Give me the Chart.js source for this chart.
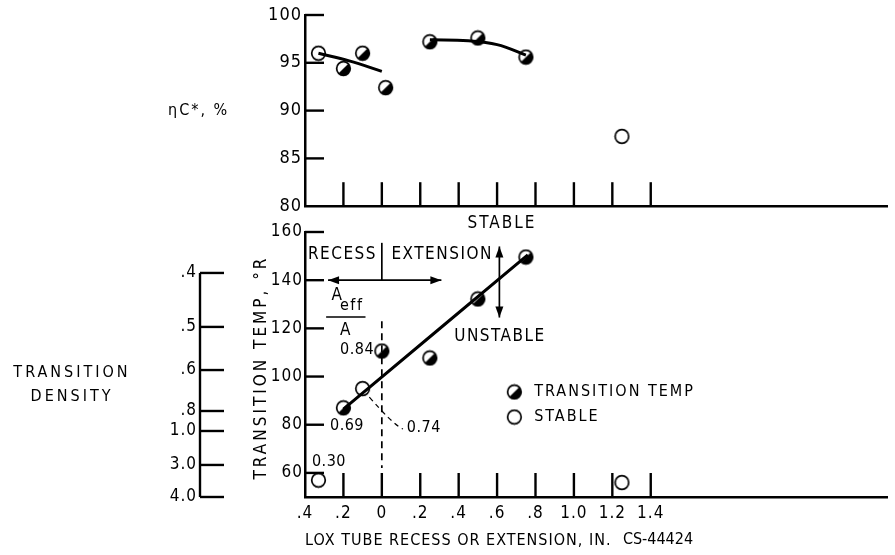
<!DOCTYPE html>
<html>
<head>
<meta charset="utf-8">
<script src="https://cdn.jsdelivr.net/npm/chart.js@4.4.1/dist/chart.umd.min.js"></script>
<style>
  html, body { margin: 0; padding: 0; background: #fff; }
  .wrap { position: relative; width: 895px; height: 555px; overflow: hidden; }
  .wrap canvas { position: absolute; left: 0; top: 0; }
</style>
</head>
<body>
<div class="wrap">
  <canvas id="chartTemp" width="895" height="555"></canvas>
  <canvas id="chartEta" width="895" height="220"></canvas>
</div>
<script>
const X_TICKS = [-0.4, -0.2, 0, 0.2, 0.4, 0.6, 0.8, 1.0, 1.2, 1.4];
const X_TICK_LABELS = ['.4', '.2', '0', '.2', '.4', '.6', '.8', '1.0', '1.2', '1.4'];

// top panel - c* efficiency, %
const ETA_TICKS = [80, 85, 90, 95, 100];
const ETA_TRANS_X = [-0.2, -0.1, 0.02, 0.25, 0.5, 0.75];
const ETA_TRANS_Y = [94.4, 96.0, 92.4, 97.2, 97.6, 95.6];
const ETA_STABLE_X = [-0.33, 1.25];
const ETA_STABLE_Y = [96.0, 87.3];
const ETA_FIT_RECESS_X = [-0.33, -0.17, 0];
const ETA_FIT_RECESS_Y = [96.0, 95.2, 94.1];
const ETA_FIT_EXT_X = [0.25, 0.45, 0.6, 0.75];
const ETA_FIT_EXT_Y = [97.4, 97.3, 96.9, 95.8];

// bottom panel - transition temperature, deg R
const TEMP_TICKS = [60, 80, 100, 120, 140, 160];
const TEMP_TRANS_X = [-0.2, -0.1, 0, 0.25, 0.5, 0.75];
const TEMP_TRANS_Y = [87, 95, 110.6, 107.7, 132.2, 149.6];
const TEMP_STABLE_X = [-0.33, 1.25];
const TEMP_STABLE_Y = [57, 56];
const TEMP_FIT_X = [-0.2, 0.76];
const TEMP_FIT_Y = [86.5, 150.5];

// transition density scale, read against the temperature axis
const DENSITY_LABELS = ['.4', '.5', '.6', '.8', '1.0', '3.0', '4.0'];
const DENSITY_AT_TEMP = [143, 120.6, 102.7, 85.7, 77.4, 63.3, 50];

const FONT = '"DejaVu Sans Condensed", "DejaVu Sans", sans-serif';
const INK = '#000';

const pts = (xs, ys) => xs.map((x, i) => ({ x, y: ys[i] }));

function makeDot(half) {
  const c = document.createElement('canvas');
  c.width = 17; c.height = 17;
  const g = c.getContext('2d');
  const r = 6.8, cx = 8.5, cy = 8.5;
  g.beginPath(); g.arc(cx, cy, r, 0, Math.PI * 2);
  g.fillStyle = '#fff'; g.fill();
  if (half) {
    g.beginPath(); g.arc(cx, cy, r, -Math.PI / 4, Math.PI * 3 / 4);
    g.closePath(); g.fillStyle = INK; g.fill();
  }
  g.beginPath(); g.arc(cx, cy, r, 0, Math.PI * 2);
  g.lineWidth = 1.7; g.strokeStyle = INK; g.stroke();
  return c;
}
const halfDot = makeDot(true);
const openDot = makeDot(false);

function seg(ctx, x1, y1, x2, y2) {
  ctx.beginPath(); ctx.moveTo(x1, y1); ctx.lineTo(x2, y2); ctx.stroke();
}

function arrowHead(ctx, x, y, dx, dy) {
  const L = 11, W = 4;
  ctx.beginPath();
  ctx.moveTo(x, y);
  ctx.lineTo(x - dx * L - dy * W, y - dy * L + dx * W);
  ctx.lineTo(x - dx * L + dy * W, y - dy * L - dx * W);
  ctx.closePath(); ctx.fill();
}

function label(ctx, str, x, y, opts = {}) {
  ctx.save();
  ctx.translate(x, y);
  if (opts.rotate) ctx.rotate(opts.rotate);
  ctx.font = `${opts.size || 16}px ${FONT}`;
  ctx.textAlign = opts.align || 'left';
  ctx.textBaseline = 'middle';
  ctx.letterSpacing = (opts.spacing || 0) + 'px';
  ctx.fillStyle = INK;
  ctx.fillText(str, 0, 0);
  ctx.restore();
}

const spacing = {
  id: 'spacing',
  beforeDraw(chart) { chart.ctx.letterSpacing = '1px'; },
  afterDraw(chart) { chart.ctx.letterSpacing = '0px'; },
};

const etaDecor = {
  id: 'etaDecor',
  afterDraw(chart) {
    const { ctx, chartArea: a, scales: { x, y } } = chart;
    ctx.save();
    ctx.strokeStyle = INK; ctx.lineWidth = 2.4;
    ETA_TICKS.slice(1).forEach(v => seg(ctx, a.left, y.getPixelForValue(v), a.left + 19, y.getPixelForValue(v)));
    X_TICKS.slice(1).forEach(v => seg(ctx, x.getPixelForValue(v), a.bottom, x.getPixelForValue(v), a.bottom - 24));
    ctx.restore();
    label(ctx, 'ηC*, %', 168, y.getPixelForValue(90), { size: 16, spacing: 2 });
  },
};

const tempDecor = {
  id: 'tempDecor',
  afterDraw(chart) {
    const { ctx, chartArea: a, scales: { x, y, yDen } } = chart;
    const px = v => x.getPixelForValue(v);
    const py = v => y.getPixelForValue(v);
    ctx.save();
    ctx.strokeStyle = INK; ctx.fillStyle = INK; ctx.lineWidth = 2.4;

    TEMP_TICKS.forEach(v => seg(ctx, a.left, py(v), a.left + 19, py(v)));
    X_TICKS.slice(1).forEach(v => seg(ctx, px(v), a.bottom, px(v), a.bottom - 24));

    // density axis line and ticks
    const xd = yDen.right;
    seg(ctx, xd, py(DENSITY_AT_TEMP[0]), xd, py(DENSITY_AT_TEMP[DENSITY_AT_TEMP.length - 1]));
    DENSITY_AT_TEMP.forEach(v => seg(ctx, xd, py(v), xd + 24, py(v)));

    // recess / extension marker and arrows
    ctx.lineWidth = 1.7;
    seg(ctx, px(0), py(155.5), px(0), py(140));
    seg(ctx, px(-0.28), py(140), px(0.31), py(140));
    arrowHead(ctx, px(-0.28), py(140), -1, 0);
    arrowHead(ctx, px(0.31), py(140), 1, 0);
    seg(ctx, px(0.612), py(154), px(0.612), py(124.5));
    arrowHead(ctx, px(0.612), py(154), 0, -1);
    arrowHead(ctx, px(0.612), py(124.5), 0, 1);

    // dashed guide at zero and leader to 0.74
    ctx.setLineDash([7, 5]);
    seg(ctx, px(0), py(123), px(0), py(62));
    ctx.setLineDash([5, 4]);
    ctx.lineWidth = 1.2;
    ctx.beginPath();
    ctx.moveTo(px(-0.065), py(91.5));
    ctx.quadraticCurveTo(px(0.06), py(80), px(0.11), py(78.2));
    ctx.stroke();
    ctx.setLineDash([]);

    // A_eff / A fraction
    ctx.lineWidth = 1.4;
    seg(ctx, px(-0.29), py(124.7), px(-0.085), py(124.7));
    ctx.restore();

    label(ctx, 'STABLE', px(0.625), py(163.5), { align: 'center', size: 17, spacing: 2 });
    label(ctx, 'UNSTABLE', px(0.615), py(116.4), { align: 'center', size: 17, spacing: 1.5 });
    label(ctx, 'RECESS', px(-0.025), py(150.5), { align: 'right', size: 17, spacing: 1.5 });
    label(ctx, 'EXTENSION', px(0.05), py(150.5), { size: 17, spacing: 1.5 });
    label(ctx, 'A', px(-0.262), py(133.8), { size: 17 });
    label(ctx, 'eff', px(-0.218), py(129.3), { size: 16, spacing: 1.5 });
    label(ctx, 'A', px(-0.19), py(119), { align: 'center', size: 17 });
    label(ctx, '0.84', px(-0.04), py(111), { align: 'right', size: 16, spacing: 0.5 });
    label(ctx, '0.69', px(-0.27), py(79.5), { size: 16, spacing: 0.5 });
    label(ctx, '0.74', px(0.13), py(78.5), { size: 16, spacing: 0.5 });
    label(ctx, '0.30', px(-0.364), py(64.5), { size: 16, spacing: 0.5 });

    // legend
    ctx.drawImage(halfDot, px(0.69) - 8.5, py(93.6) - 8.5);
    ctx.drawImage(openDot, px(0.69) - 8.5, py(83.2) - 8.5);
    label(ctx, 'TRANSITION TEMP', px(0.793), py(93.6), { size: 16, spacing: 2 });
    label(ctx, 'STABLE', px(0.793), py(83.2), { size: 16, spacing: 2 });

    label(ctx, 'TRANSITION', 72, py(101.5), { align: 'center', size: 16, spacing: 3 });
    label(ctx, 'DENSITY', 72, py(91.5), { align: 'center', size: 16, spacing: 3 });
    label(ctx, 'TRANSITION TEMP, °R', 262, (a.top + a.bottom) / 2 + 3,
      { align: 'center', size: 17, spacing: 3, rotate: -Math.PI / 2 });
    label(ctx, 'CS-44424', px(1.255), chart.height - 15, { size: 16 });
  },
};

const lineSet = (xs, ys) => ({
  data: pts(xs, ys), showLine: true, tension: 0.4, borderColor: INK, borderWidth: 3,
  pointRadius: 0, fill: false,
});
const dotSet = (xs, ys, style) => ({
  data: pts(xs, ys), showLine: false, pointStyle: style, pointRadius: 7, clip: false,
});

new Chart(document.getElementById('chartEta'), {
  type: 'scatter',
  data: {
    datasets: [
      lineSet(ETA_FIT_RECESS_X, ETA_FIT_RECESS_Y),
      lineSet(ETA_FIT_EXT_X, ETA_FIT_EXT_Y),
      dotSet(ETA_TRANS_X, ETA_TRANS_Y, halfDot),
      dotSet(ETA_STABLE_X, ETA_STABLE_Y, openDot),
    ],
  },
  options: {
    responsive: false,
    animation: false,
    layout: { padding: { top: 15, bottom: 13, left: 0, right: 0 } },
    plugins: { legend: { display: false }, tooltip: { enabled: false } },
    scales: {
      x: {
        type: 'linear', min: -0.4, max: 2.63,
        ticks: { display: false },
        grid: { display: false, drawTicks: false },
        border: { color: INK, width: 2.5 },
        afterFit: s => { s.height = 0; },
      },
      y: {
        min: 80, max: 100,
        afterBuildTicks: s => { s.ticks = ETA_TICKS.map(v => ({ value: v })); },
        ticks: { color: INK, font: { family: FONT, size: 18 }, padding: 3 },
        grid: { display: false, drawTicks: false },
        border: { color: INK, width: 2.5 },
        afterFit: s => { s.width = 305; },
      },
    },
  },
  plugins: [spacing, etaDecor],
});

new Chart(document.getElementById('chartTemp'), {
  type: 'scatter',
  data: {
    datasets: [
      lineSet(TEMP_FIT_X, TEMP_FIT_Y),
      { ...dotSet(TEMP_TRANS_X, TEMP_TRANS_Y, halfDot), pointStyle: c => (c.dataIndex === 1 ? openDot : halfDot) },
      dotSet(TEMP_STABLE_X, TEMP_STABLE_Y, openDot),
    ],
  },
  options: {
    responsive: false,
    animation: false,
    layout: { padding: { top: 232, bottom: 0, left: 0, right: 0 } },
    plugins: { legend: { display: false }, tooltip: { enabled: false } },
    scales: {
      x: {
        type: 'linear', min: -0.4, max: 2.63,
        afterBuildTicks: s => { s.ticks = X_TICKS.map(v => ({ value: v })); },
        ticks: {
          autoSkip: false, maxRotation: 0, color: INK, padding: 6,
          font: { family: FONT, size: 17 },
          callback: (v, i) => X_TICK_LABELS[i],
        },
        grid: { display: false, drawTicks: false },
        border: { color: INK, width: 2.5 },
        title: {
          display: true, text: 'LOX TUBE RECESS OR EXTENSION, IN.', align: 'start', color: INK,
          font: { family: FONT, size: 16 }, padding: { top: 0, bottom: 5 },
        },
        afterFit: s => { s.height = 58; },
      },
      y: {
        position: 'left', weight: 1, min: 50, max: 160,
        afterBuildTicks: s => { s.ticks = TEMP_TICKS.map(v => ({ value: v })); },
        ticks: { color: INK, font: { family: FONT, size: 17 }, padding: 2 },
        grid: { display: false, drawTicks: false },
        border: { color: INK, width: 2.5 },
        afterFit: s => { s.width = 105; },
      },
      yDen: {
        position: 'left', weight: 2, min: 50, max: 160,
        afterBuildTicks: s => { s.ticks = DENSITY_AT_TEMP.map(v => ({ value: v })); },
        ticks: {
          color: INK, font: { family: FONT, size: 17 }, padding: 3,
          callback: (v, i) => DENSITY_LABELS[i],
        },
        grid: { display: false, drawTicks: false },
        border: { display: false },
        afterFit: s => { s.width = 200; },
      },
    },
  },
  plugins: [spacing, tempDecor],
});
</script>
</body>
</html>
